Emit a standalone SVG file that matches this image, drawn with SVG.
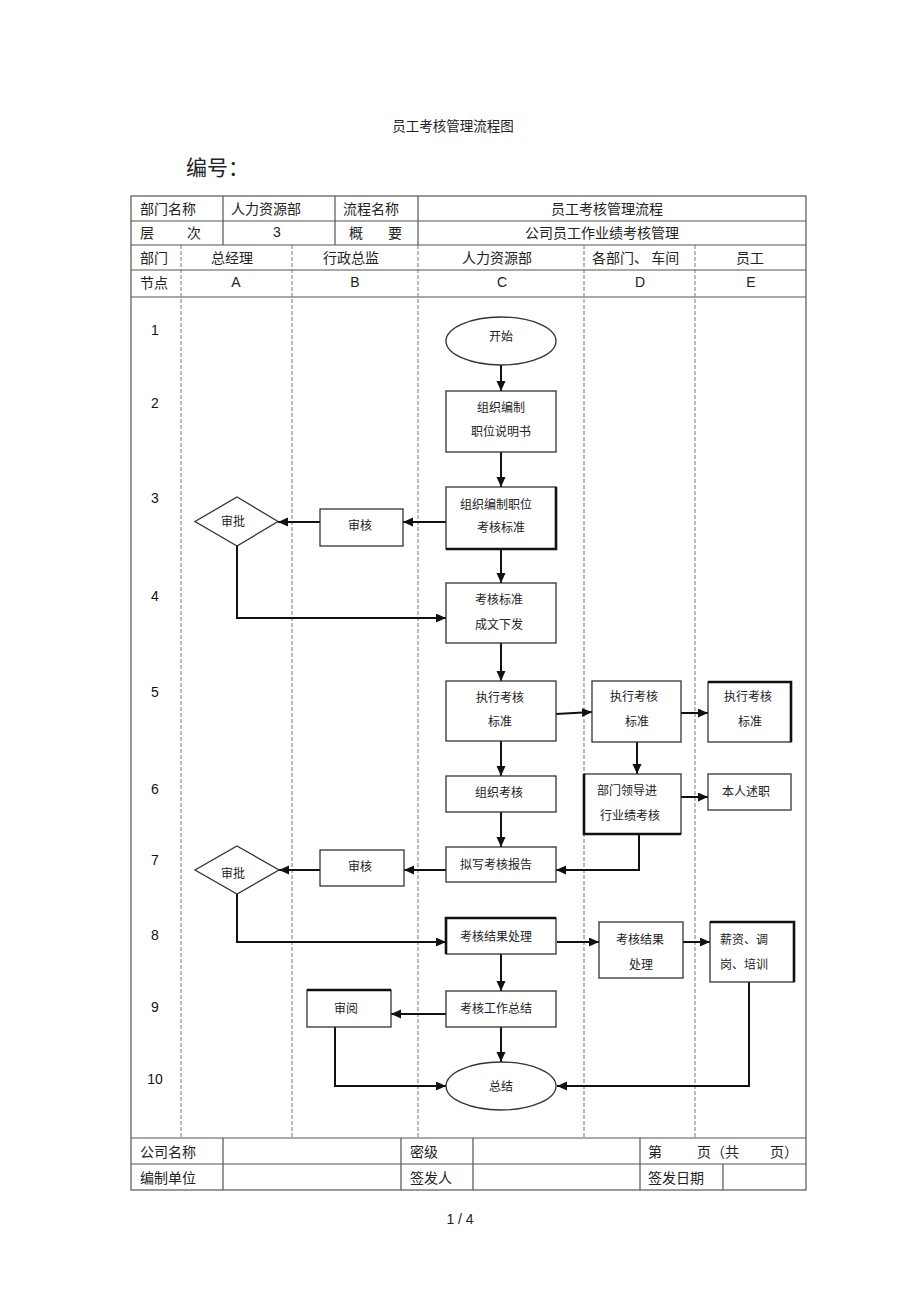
<svg xmlns="http://www.w3.org/2000/svg" width="920" height="1303" viewBox="0 0 920 1303">
<style>
.t{font-family:"Noto Sans CJK SC","Liberation Sans",sans-serif;fill:#222}
.h{font-size:14px}
.n{font-size:12px;text-anchor:middle}
.l{font-family:"Liberation Sans","Noto Sans CJK SC",sans-serif;fill:#222;font-size:14px}
.tb{stroke:#555;stroke-width:1.2;fill:none}
.ds{stroke:#777;stroke-width:1;stroke-dasharray:4 2;fill:none}
.bx{fill:#fff;stroke:#333;stroke-width:1.3}
.tk{stroke:#111;stroke-width:2.6;fill:none}
.cn{stroke:#111;stroke-width:2;fill:none}
</style>
<defs>
<marker id="ar" markerUnits="userSpaceOnUse" markerWidth="11" markerHeight="10" refX="10" refY="4.5" orient="auto">
<path d="M0,0 L10,4.5 L0,9 z" fill="#111"/>
</marker>
</defs>
<rect width="920" height="1303" fill="#fff"/>

<text class="t" x="453" y="131" font-size="13.5" text-anchor="middle">员工考核管理流程图</text>
<text class="t" x="186" y="175" font-size="21">编号：</text>

<g id="table">
<rect class="tb" x="131" y="196" width="675" height="994"/>
<path class="tb" d="M131 221H806M131 245H806M131 270H806M131 297H806M131 1138H806M131 1164H806"/>
<path class="tb" d="M223 196V245M335 196V245M418 196V245"/>
<path class="ds" d="M181 245V1138M292 245V1138M418 245V1138M584 245V1138M695 245V1138"/>
<path class="tb" d="M223 1138V1190M401 1138V1190M473 1138V1190M640 1138V1190M723 1164V1190"/>
<text class="t h" x="140" y="214">部门名称</text>
<text class="t h" x="231" y="214">人力资源部</text>
<text class="t h" x="343" y="214">流程名称</text>
<text class="t h" x="607" y="214" text-anchor="middle">员工考核管理流程</text>
<text class="t h" x="140" y="238">层</text>
<text class="t h" x="187" y="238">次</text>
<text class="l" x="277" y="237" text-anchor="middle">3</text>
<text class="t h" x="349" y="238">概</text>
<text class="t h" x="388" y="238">要</text>
<text class="t h" x="602" y="238" text-anchor="middle">公司员工作业绩考核管理</text>
<text class="t h" x="140" y="263">部门</text>
<text class="t h" x="232" y="263" text-anchor="middle">总经理</text>
<text class="t h" x="351" y="263" text-anchor="middle">行政总监</text>
<text class="t h" x="497" y="263" text-anchor="middle">人力资源部</text>
<text class="t h" x="592" y="263">各部门、 车间</text>
<text class="t h" x="750" y="263" text-anchor="middle">员工</text>
<text class="t h" x="140" y="288">节点</text>
<text class="l" x="236" y="287" text-anchor="middle">A</text>
<text class="l" x="355" y="287" text-anchor="middle">B</text>
<text class="l" x="502" y="287" text-anchor="middle">C</text>
<text class="l" x="640" y="287" text-anchor="middle">D</text>
<text class="l" x="751" y="287" text-anchor="middle">E</text>
<text class="t h" x="140" y="1157">公司名称</text>
<text class="t h" x="410" y="1157">密级</text>
<text class="t h" x="648" y="1157">第</text>
<text class="t h" x="697" y="1157">页（共</text>
<text class="t h" x="770" y="1157">页）</text>
<text class="t h" x="140" y="1183">编制单位</text>
<text class="t h" x="410" y="1183">签发人</text>
<text class="t h" x="648" y="1183">签发日期</text>
</g>

<g id="rows" font-family="Liberation Sans, sans-serif" font-size="14" fill="#111" text-anchor="middle">
<text x="155" y="335">1</text>
<text x="155" y="408">2</text>
<text x="155" y="503">3</text>
<text x="155" y="601">4</text>
<text x="155" y="697">5</text>
<text x="155" y="794">6</text>
<text x="155" y="865">7</text>
<text x="155" y="940">8</text>
<text x="155" y="1012">9</text>
<text x="155" y="1084">10</text>
</g>

<g id="connectors">
<path class="cn" marker-end="url(#ar)" d="M501 365V391"/>
<path class="cn" marker-end="url(#ar)" d="M501 452V487"/>
<path class="cn" marker-end="url(#ar)" d="M446 522H403"/>
<path class="cn" marker-end="url(#ar)" d="M320 522H278"/>
<path class="cn" marker-end="url(#ar)" d="M237 546V618H446"/>
<path class="cn" marker-end="url(#ar)" d="M501 549V583"/>
<path class="cn" marker-end="url(#ar)" d="M501 643V681"/>
<path class="cn" marker-end="url(#ar)" d="M556 714L592 712"/>
<path class="cn" marker-end="url(#ar)" d="M681 713H708"/>
<path class="cn" marker-end="url(#ar)" d="M501 741V776"/>
<path class="cn" marker-end="url(#ar)" d="M637 742V774"/>
<path class="cn" marker-end="url(#ar)" d="M681 797H708"/>
<path class="cn" marker-end="url(#ar)" d="M501 812V847"/>
<path class="cn" marker-end="url(#ar)" d="M639 834V870H556"/>
<path class="cn" marker-end="url(#ar)" d="M446 870H404"/>
<path class="cn" marker-end="url(#ar)" d="M320 870H279"/>
<path class="cn" marker-end="url(#ar)" d="M237 894V942H446"/>
<path class="cn" marker-end="url(#ar)" d="M557 942H599"/>
<path class="cn" marker-end="url(#ar)" d="M683 942H710"/>
<path class="cn" marker-end="url(#ar)" d="M501 954V991"/>
<path class="cn" marker-end="url(#ar)" d="M446 1014H391"/>
<path class="cn" marker-end="url(#ar)" d="M501 1027V1062"/>
<path class="cn" marker-end="url(#ar)" d="M335 1027V1086H446"/>
<path class="cn" marker-end="url(#ar)" d="M749 982V1086H557"/>
</g>

<g id="start"><ellipse class="bx" cx="501" cy="341" rx="55" ry="24"/><text class="t n" x="501" y="341">开始</text></g>
<g id="c2"><rect class="bx" x="446" y="391" width="110" height="61"/><text class="t n" x="501" y="412">组织编制</text><text class="t n" x="501" y="436">职位说明书</text></g>
<g id="c3"><rect class="bx" x="446" y="487" width="110" height="62"/><path class="tk" d="M556 487V549H446"/><text class="t n" x="496" y="509">组织编制职位</text><text class="t n" x="501" y="532">考核标准</text></g>
<g id="b3"><rect class="bx" x="320" y="509" width="83" height="37"/><text class="t n" x="360" y="530">审核</text></g>
<g id="a3"><polygon class="bx" points="237,497 278,521.5 237,546 195,521.5"/><text class="t n" x="233" y="526">审批</text></g>
<g id="c4"><rect class="bx" x="446" y="583" width="110" height="60"/><text class="t n" x="499" y="604">考核标准</text><text class="t n" x="499" y="629">成文下发</text></g>
<g id="c5"><rect class="bx" x="446" y="681" width="110" height="60"/><text class="t n" x="500" y="702">执行考核</text><text class="t n" x="500" y="726">标准</text></g>
<g id="d5"><rect class="bx" x="592" y="681" width="89" height="61"/><text class="t n" x="634" y="701">执行考核</text><text class="t n" x="637" y="726">标准</text></g>
<g id="e5"><rect class="bx" x="708" y="682" width="83" height="60"/><path class="tk" d="M708 682H791V742"/><text class="t n" x="748" y="701">执行考核</text><text class="t n" x="750" y="726">标准</text></g>
<g id="c6"><rect class="bx" x="446" y="776" width="110" height="36"/><text class="t n" x="499" y="797">组织考核</text></g>
<g id="d6"><rect class="bx" x="584" y="774" width="97" height="60"/><path class="tk" d="M584 774V834H681"/><text class="t n" x="627" y="795">部门领导进</text><text class="t n" x="630" y="820">行业绩考核</text></g>
<g id="e6"><rect class="bx" x="708" y="774" width="83" height="36"/><text class="t n" x="746" y="796">本人述职</text></g>
<g id="c7"><rect class="bx" x="446" y="847" width="110" height="35"/><text class="t n" x="496" y="869">拟写考核报告</text></g>
<g id="b7"><rect class="bx" x="320" y="850" width="84" height="36"/><text class="t n" x="360" y="871">审核</text></g>
<g id="a7"><polygon class="bx" points="237,846 279,870 237,894 195,870"/><text class="t n" x="233" y="878">审批</text></g>
<g id="c8"><rect class="bx" x="446" y="918" width="110" height="36"/><path class="tk" d="M446 954V918H556"/><text class="t n" x="496" y="941">考核结果处理</text></g>
<g id="d8"><rect class="bx" x="599" y="922" width="84" height="56"/><text class="t n" x="640" y="944">考核结果</text><text class="t n" x="641" y="969">处理</text></g>
<g id="e8"><rect class="bx" x="710" y="922" width="84" height="60"/><path class="tk" d="M710 922H794V982"/><text class="t" font-size="12" x="720" y="944">薪资、调</text><text class="t" font-size="12" x="720" y="969">岗、培训</text></g>
<g id="c9"><rect class="bx" x="446" y="991" width="110" height="36"/><text class="t n" x="496" y="1013">考核工作总结</text></g>
<g id="b9"><rect class="bx" x="307" y="990" width="84" height="37"/><path class="tk" d="M307 990H391"/><text class="t n" x="346" y="1013">审阅</text></g>
<g id="end"><ellipse class="bx" cx="501" cy="1086" rx="55" ry="24"/><text class="t n" x="501" y="1091">总结</text></g>

<text class="l" x="460" y="1224" text-anchor="middle" font-size="13">1 / 4</text>
</svg>
